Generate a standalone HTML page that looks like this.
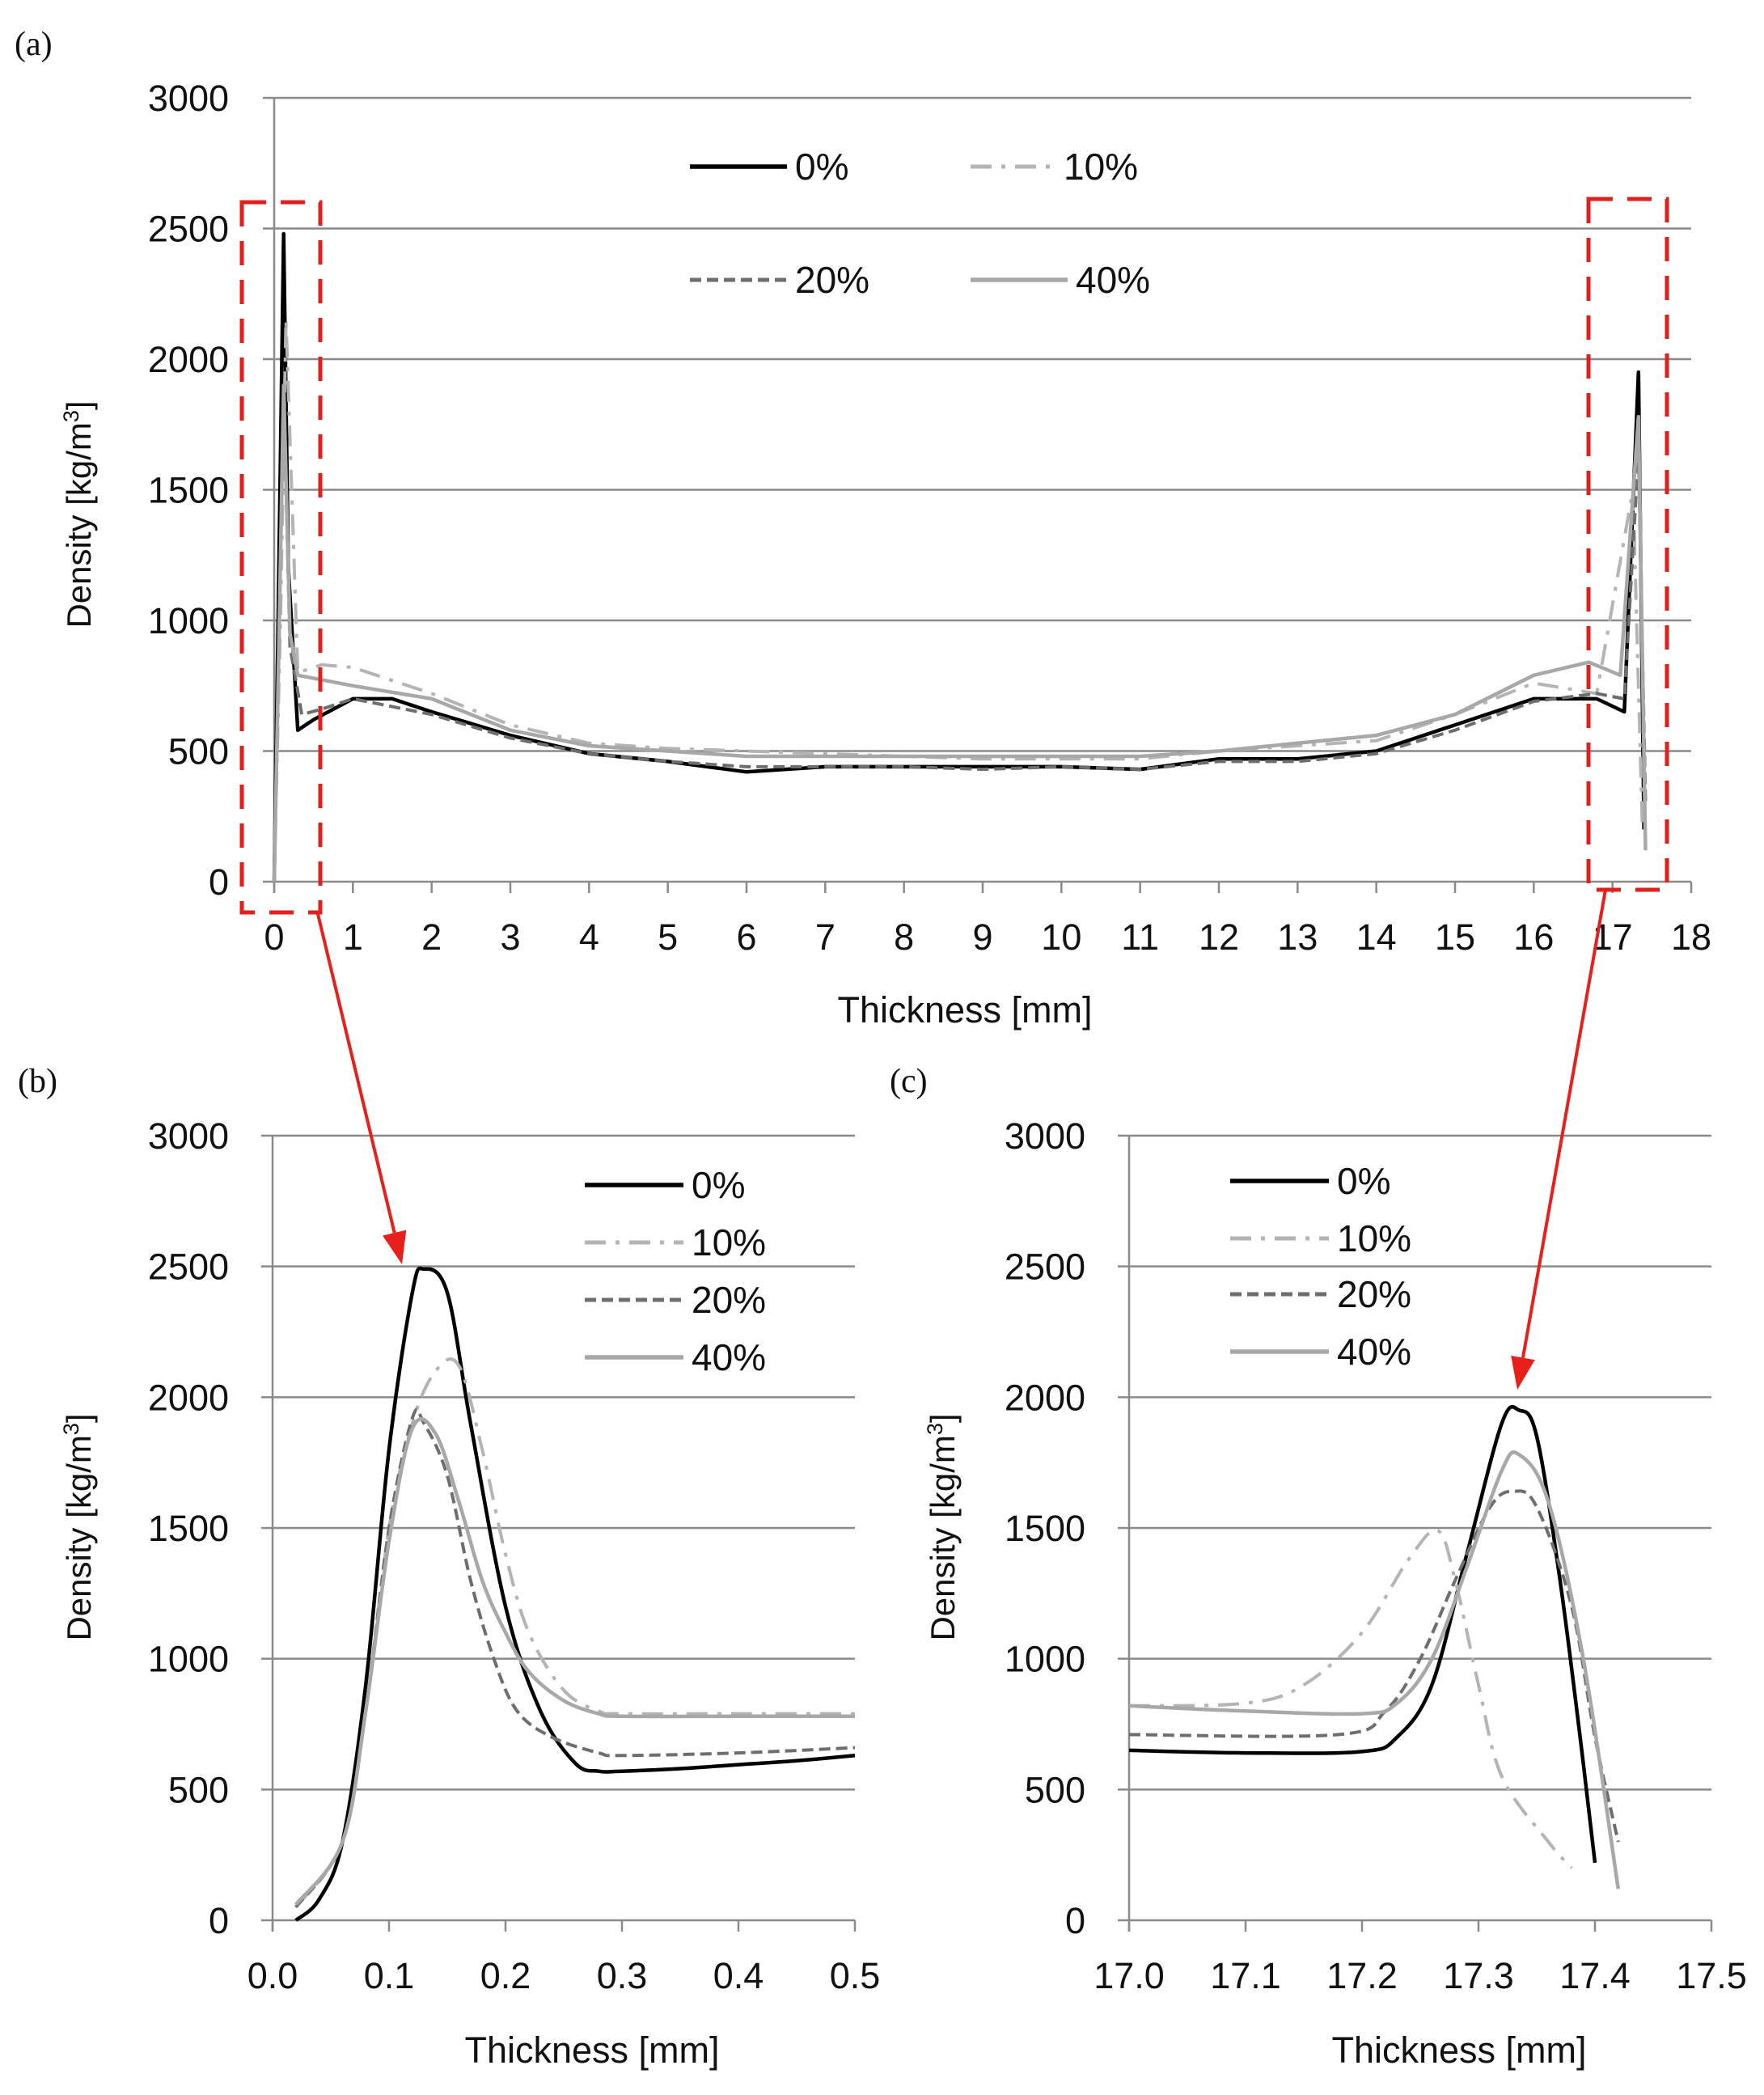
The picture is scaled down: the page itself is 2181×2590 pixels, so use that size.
<!DOCTYPE html>
<html><head><meta charset="utf-8">
<style>
html,body{margin:0;padding:0;background:#fff;}
svg{display:block;font-family:"Liberation Sans",sans-serif;}
</style></head>
<body>
<svg id="fig" width="2181" height="2590" viewBox="0 0 2181 2590" xmlns="http://www.w3.org/2000/svg">
<g id="layer"></g>
</svg>
<script>
// ---------- Panel (a) data ----------
const aX0 = [0,0.05,0.12,0.18,0.3,0.5,1,1.5,2,3,4,5,6,7,8,9,10,11,12,13,14,15,16,16.8,17.15,17.33,17.4];
const aY0 = [0,1000,2480,1200,580,620,700,700,650,560,490,460,420,440,440,440,440,430,470,470,500,600,700,700,650,1950,200];
const aX10 = [0,0.08,0.15,0.3,0.6,1,2,3,4,5,6,7,8,9,10,11,12,13,14,15,16,16.8,17.26,17.38];
const aY10 = [0,1000,2150,800,830,820,720,600,530,510,500,490,480,470,470,470,500,520,540,640,760,720,1500,200];
const aX20 = [0,0.06,0.12,0.2,0.35,0.6,1,2,3,4,5,6,7,8,9,10,11,12,13,14,15,16,16.8,17.15,17.33,17.42];
const aY20 = [0,900,1900,900,640,660,700,640,550,490,460,440,440,440,430,440,430,460,460,490,580,690,720,700,1640,300];
const aX40 = [0,0.06,0.12,0.2,0.3,1,2,3,4,5,6,7,8,9,10,11,12,13,14,15,16,16.7,17.1,17.33,17.42];
const aY40 = [0,900,1900,950,790,750,700,580,520,500,480,480,480,480,480,480,500,530,560,640,790,840,790,1780,120];
// ---------- Panel (b) data ----------
const bX0 = [0.02,0.04,0.06,0.08,0.1,0.12,0.13,0.15,0.17,0.2,0.23,0.26,0.28,0.3,0.35,0.4,0.45,0.5];
const bY0 = [0,80,300,900,1800,2400,2490,2400,1900,1200,800,600,570,570,580,595,610,630];
const bX10 = [0.02,0.06,0.08,0.1,0.12,0.14,0.16,0.18,0.2,0.22,0.25,0.28,0.3,0.4,0.5];
const bY10 = [50,300,800,1500,1900,2100,2120,1800,1400,1100,880,800,790,790,790];
const bX20 = [0.02,0.06,0.08,0.1,0.12,0.13,0.15,0.17,0.19,0.21,0.24,0.28,0.3,0.4,0.5];
const bY20 = [50,300,800,1500,1920,1900,1700,1300,1000,800,700,640,630,640,660];
const bX40 = [0.02,0.06,0.08,0.1,0.12,0.14,0.16,0.18,0.2,0.22,0.25,0.28,0.3,0.4,0.5];
const bY40 = [60,300,800,1450,1880,1860,1600,1300,1100,950,840,790,780,780,780];
// ---------- Panel (c) data ----------
const cX0 = [17.0,17.1,17.2,17.23,17.26,17.29,17.32,17.335,17.35,17.37,17.39,17.4];
const cY0 = [650,640,645,700,900,1400,1900,1950,1850,1300,600,220];
const cX10 = [17.0,17.1,17.15,17.2,17.24,17.265,17.28,17.3,17.32,17.36,17.38];
const cY10 = [820,830,900,1100,1380,1490,1300,900,550,300,200];
const cX20 = [17.0,17.18,17.22,17.25,17.28,17.31,17.33,17.35,17.38,17.4,17.42];
const cY20 = [710,710,800,1000,1300,1580,1640,1580,1200,700,300];
const cX40 = [17.0,17.1,17.2,17.23,17.26,17.29,17.32,17.335,17.36,17.39,17.42];
const cY40 = [820,800,790,830,1000,1350,1720,1780,1600,1000,120];
// ---------- tick labels ----------
const yTicks = [0,500,1000,1500,2000,2500,3000];
const aXTicks = [0,1,2,3,4,5,6,7,8,9,10,11,12,13,14,15,16,17,18];
const bXTicks = ["0.0","0.1","0.2","0.3","0.4","0.5"];
const cXTicks = ["17.0","17.1","17.2","17.3","17.4","17.5"];
const seriesNames = ["0%","10%","20%","40%"];

const NS = "http://www.w3.org/2000/svg";
const layer = document.getElementById("layer");
function mk(tag, attrs, parent){const e=document.createElementNS(NS,tag);for(const k in attrs)e.setAttribute(k,attrs[k]);(parent||layer).appendChild(e);return e;}

const styles = [
 {stroke:"#000",w:4.5,dash:""},
 {stroke:"#b4b4b4",w:4,dash:"26 12 5 12"},
 {stroke:"#6e6e6e",w:4,dash:"14 7"},
 {stroke:"#a8a8a8",w:4.5,dash:""}
];

function smoothPath(pts, smooth){
  let d="M"+pts[0][0]+","+pts[0][1];
  for(let i=0;i<pts.length-1;i++){
    if(!smooth){d+=" L"+pts[i+1][0].toFixed(1)+","+pts[i+1][1].toFixed(1);continue;}
    const p0=pts[Math.max(0,i-1)],p1=pts[i],p2=pts[i+1],p3=pts[Math.min(pts.length-1,i+2)];
    const t=0.17;
    const c1=[p1[0]+(p2[0]-p0[0])*t,p1[1]+(p2[1]-p0[1])*t];
    const c2=[p2[0]-(p3[0]-p1[0])*t,p2[1]-(p3[1]-p1[1])*t];
    d+=" C"+c1[0].toFixed(1)+","+c1[1].toFixed(1)+" "+c2[0].toFixed(1)+","+c2[1].toFixed(1)+" "+p2[0].toFixed(1)+","+p2[1].toFixed(1);
  }
  return d;
}

function panel(cfg){
  const g=mk("g",{});
  
  
  const sx=v=>cfg.x0+(v-cfg.xmin)/(cfg.xmax-cfg.xmin)*(cfg.x1-cfg.x0);
  const sy=v=>cfg.y0+(v/3000)*(cfg.y1-cfg.y0);
  yTicks.forEach(t=>{
    const l=mk("line",{x1:cfg.x0-14,x2:cfg.x1,y1:sy(t),y2:sy(t),stroke:"#8a8a8a","stroke-width":2.5},g);
    
    
    const tx=mk("text",{x:cfg.ylabX,y:sy(t)+16,"text-anchor":"end","font-size":45,fill:"#111"},g);
    tx.textContent=t;
    
    
  });
  const ax=mk("line",{x1:cfg.x0,x2:cfg.x0,y1:cfg.y1,y2:cfg.y0+14,stroke:"#8a8a8a","stroke-width":2.5},g);
  
  
  cfg.xticks.forEach((t,i)=>{
    const xv=cfg.xmin+i*cfg.step;
    const x=sx(xv);
    const tk=mk("line",{x1:x,x2:x,y1:cfg.y0,y2:cfg.y0+14,stroke:"#8a8a8a","stroke-width":2.5},g);
    
    
    const tx=mk("text",{x:x,y:cfg.y0+84,"text-anchor":"middle","font-size":45,fill:"#111"},g);
    tx.textContent=t;
    
    
  });
  cfg.series.forEach((s,i)=>{
    const pts=s[0].map((xv,j)=>[sx(xv),sy(s[1][j])]);
    const p=mk("path",{d:smoothPath(pts,cfg.smooth),fill:"none",stroke:styles[i].stroke,"stroke-width":styles[i].w,"stroke-dasharray":styles[i].dash,"stroke-linejoin":"round"},g);
    
    
  });
  cfg.legend.forEach((lp,i)=>{
    const lg=mk("g",{},g);
    
    
    mk("line",{x1:lp[0],x2:lp[0]+lp[2],y1:lp[1],y2:lp[1],stroke:styles[i].stroke,"stroke-width":styles[i].w+1,"stroke-dasharray":styles[i].dash},lg);
    const t=mk("text",{x:lp[0]+lp[2]+10,y:lp[1]+16,"font-size":46,fill:"#111"},lg);
    t.textContent=seriesNames[i];
  });
  const yl=mk("text",{x:0,y:0,transform:"translate("+cfg.ytitle[0]+","+cfg.ytitle[1]+") rotate(-90)","text-anchor":"middle","font-size":42,fill:"#111"},g);
  yl.innerHTML='Density [kg/m<tspan font-size="27" dy="-15">3</tspan><tspan dy="15">]</tspan>';
  
  
  const xl=mk("text",{x:cfg.xtitle[0],y:cfg.xtitle[1],"text-anchor":"middle","font-size":45,fill:"#111"},g);
  xl.textContent="Thickness [mm]";
  
  
  const pl=mk("text",{x:cfg.plabel[0],y:cfg.plabel[1],"font-size":42,fill:"#111","font-family":"Liberation Serif, serif"},g);
  pl.textContent=cfg.plabelText;
  
  
}

panel({name:"panel-a",x0:339,x1:2091,xmin:0,xmax:18,step:1,y0:1090,y1:121,ylabX:283,xticks:aXTicks,smooth:false,
  series:[[aX0,aY0],[aX10,aY10],[aX20,aY20],[aX40,aY40]],
  legend:[[853,206,120],[1200,206,105],[853,346,120],[1200,346,120]],
  ytitle:[112,636],xtitle:[1193,1264],plabel:[18,68],plabelText:"(a)"});
panel({name:"panel-b",x0:337,x1:1057,xmin:0,xmax:0.5,step:0.1,y0:2374,y1:1404,ylabX:283,xticks:bXTicks,smooth:true,
  series:[[bX0,bY0],[bX10,bY10],[bX20,bY20],[bX40,bY40]],
  legend:[[723,1465,122],[723,1536,122],[723,1607,122],[723,1678,122]],
  ytitle:[112,1888],xtitle:[732,2550],plabel:[22,1350],plabelText:"(b)"});
panel({name:"panel-c",x0:1396,x1:2116,xmin:17.0,xmax:17.5,step:0.1,y0:2374,y1:1404,ylabX:1342,xticks:cXTicks,smooth:true,
  series:[[cX0,cY0],[cX10,cY10],[cX20,cY20],[cX40,cY40]],
  legend:[[1521,1460,122],[1521,1531,122],[1521,1600,122],[1521,1671,122]],
  ytitle:[1180,1888],xtitle:[1804,2550],plabel:[1100,1350],plabelText:"(c)"});

// zoom boxes and arrows
const ann=mk("g",{});


const bx1=mk("rect",{x:299,y:250,width:97,height:878,fill:"none",stroke:"#e0201c","stroke-width":5,"stroke-dasharray":"30 18"},ann);


const bx2=mk("rect",{x:1964,y:246,width:97,height:854,fill:"none",stroke:"#e0201c","stroke-width":5,"stroke-dasharray":"30 18"},ann);


function arrow(x1,y1,x2,y2,name){
  const a=mk("g",{},ann);
  
  
  const ang=Math.atan2(y2-y1,x2-x1);
  const L=40,W=15;
  const bx=x2-L*Math.cos(ang),by=y2-L*Math.sin(ang);
  mk("line",{x1:x1,y1:y1,x2:bx,y2:by,stroke:"#e8201c","stroke-width":4},a);
  mk("polygon",{points:x2+","+y2+" "+(bx+W*Math.sin(ang))+","+(by-W*Math.cos(ang))+" "+(bx-W*Math.sin(ang))+","+(by+W*Math.cos(ang)),fill:"#e8201c"},a);
}
arrow(393,1130,497,1563,"zoom-arrow-left");
arrow(1985,1100,1876,1718,"zoom-arrow-right");
</script>
</body></html>
